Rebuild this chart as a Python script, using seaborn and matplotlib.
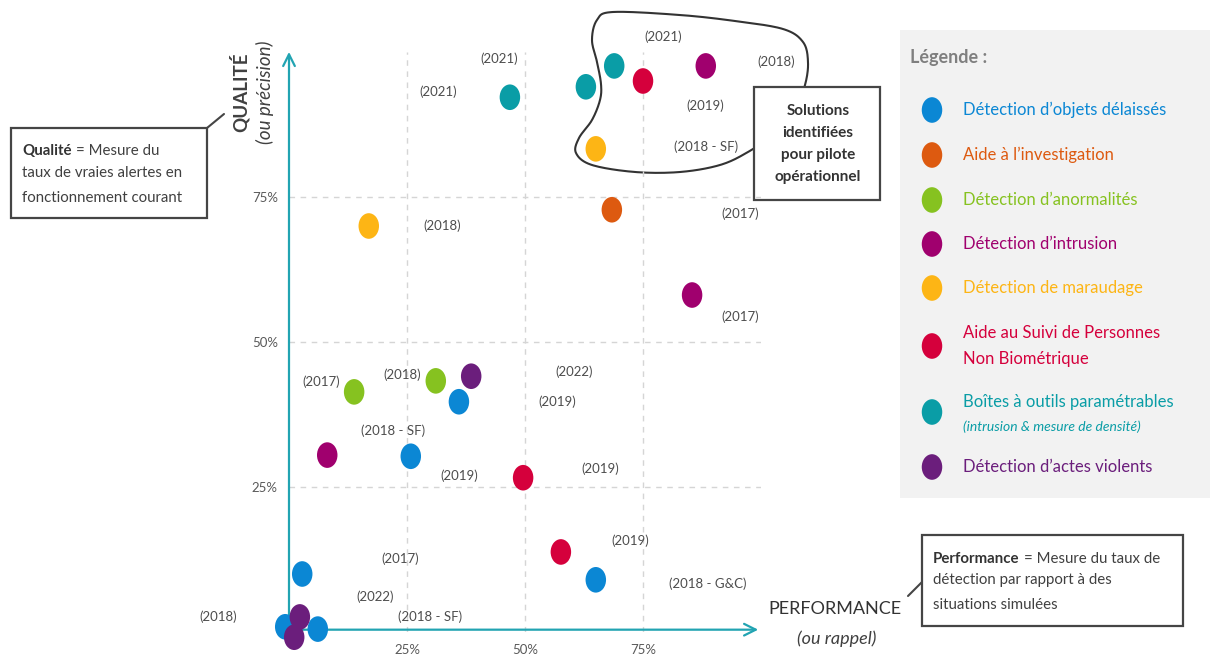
import numpy as np
import pandas as pd
import matplotlib
matplotlib.use("Agg")
import matplotlib.pyplot as plt
import matplotlib.transforms as mtransforms
from matplotlib.path import Path
from matplotlib.patches import Rectangle
import seaborn as sns

# Categories (legend order) and their colours
categories = [
    "Détection d’objets délaissés",
    "Aide à l’investigation",
    "Détection d’anormalités",
    "Détection d’intrusion",
    "Détection de maraudage",
    "Aide au Suivi de Personnes\nNon Biométrique",
    "Boîtes à outils paramétrables",
    "Détection d’actes violents",
]
colors = ["#0B87D4", "#DD5A10", "#86C220", "#A0006E",
          "#FDB515", "#D5003C", "#0A9DA6", "#6B1E7C"]

# One entry per solution: category index, performance (%), qualité (%)
point_cat = [0, 0, 0, 0, 0, 0,
             1,
             2, 2,
             3, 3, 3,
             4, 4,
             5, 5, 5,
             6, 6, 6,
             7, 7, 7]
performance = [25.8, 36.0, 2.8, 65.0, -0.8, 6.1,
               68.4,
               13.8, 31.1,
               88.3, 85.4, 8.1,
               16.9, 65.0,
               75.0, 49.6, 57.6,
               46.8, 62.9, 68.9,
               38.6, 2.3, 1.1]
qualite = [30.3, 39.7, 10.0, 9.0, 0.9, 0.5,
           72.8,
           41.4, 43.3,
           97.6, 58.1, 30.5,
           70.0, 83.3,
           95.0, 26.6, 13.8,
           92.2, 94.0, 97.6,
           44.1, 2.6, -0.9]

# Year labels (text and where they sit, in data units)
year_text = ["(2018 - SF)", "(2019)", "(2017)", "(2018 - G&C)", "(2018)", "(2018 - SF)",
             "(2017)", "(2017)", "(2018)", "(2018)", "(2017)",
             "(2018)", "(2018 - SF)", "(2019)", "(2019)", "(2019)", "(2019)",
             "(2021)", "(2021)", "(2021)", "(2022)", "(2022)"]
year_x = [22.0, 56.8, 23.5, 88.8, -15.0, 29.9,
          95.6, 6.8, 24.0, 103.2, 95.6,
          32.4, 88.3, 88.1, 65.9, 36.0, 72.2,
          31.6, 44.5, 79.2, 60.4, 18.2]
year_y = [34.7, 39.7, 12.6, 8.3, 2.6, 2.6,
          72.1, 43.1, 44.4, 98.3, 54.3,
          70.0, 83.6, 90.7, 28.1, 26.9, 15.7,
          93.1, 98.8, 102.6, 44.8, 6.0]

ticks = [25, 50, 75]
tick_labels = ["25%", "50%", "75%"]

df = pd.DataFrame({
    "performance": performance,
    "qualite": qualite,
    "categorie": [categories[i] for i in point_cat],
})
palette = dict(zip(categories, colors))

sns.set_theme(style="white")
plt.rcParams["font.family"] = ["Lato", "DejaVu Sans"]

TXT = "#404040"
TEAL = "#22A4B2"

fig = plt.figure(figsize=(12.29, 6.64), dpi=100)

# overlay in pixel coordinates for the annotations
ov = fig.add_axes([0, 0, 1, 1])
ov.set_xlim(0, 1229)
ov.set_ylim(664, 0)
ov.axis("off")

ax = fig.add_axes([289 / 1229, 32 / 664, 472 / 1229, 580 / 664])
ax.patch.set_alpha(0)

ellipse = Path.unit_circle().transformed(mtransforms.Affine2D().scale(0.8, 1.0))

sns.scatterplot(data=df, x="performance", y="qualite", hue="categorie",
                palette=palette, marker=ellipse, s=340, linewidth=0,
                legend=False, ax=ax, clip_on=False, zorder=4)

ax.set_xlim(0, 100)
ax.set_ylim(0, 100)
ax.set_xticks(ticks)
ax.set_xticklabels(tick_labels)
ax.set_yticks(ticks)
ax.set_yticklabels(tick_labels)
ax.tick_params(length=0, labelsize=9.5, labelcolor="#595959")
ax.tick_params(axis="x", pad=9)
ax.tick_params(axis="y", pad=8)
ax.grid(True, color="#D5D5D5", linestyle=(0, (4, 4)), linewidth=1)
ax.set_xlabel("")
ax.set_ylabel("")
for s in ax.spines.values():
    s.set_visible(False)

# axis arrows
arrow = dict(arrowstyle="->,head_length=0.7,head_width=0.35", color=TEAL, lw=1.6)
ax.annotate("", xy=(100, 0.4), xytext=(0, 0.4), arrowprops=arrow, annotation_clip=False)
ax.annotate("", xy=(0, 100.5), xytext=(0, 0), arrowprops=arrow, annotation_clip=False)

for t, x, y in zip(year_text, year_x, year_y):
    ax.text(x, y, t, ha="center", va="center", fontsize=9.5, color="#4D4D4D",
            clip_on=False)

# axis titles
ov.text(240, 92, "QUALITÉ", rotation=90, ha="center", va="center",
        fontsize=13.5, weight="bold", color=TXT)
ov.text(265, 92, "(ou précision)", rotation=90, ha="center", va="center",
        fontsize=13.5, style="italic", color=TXT)
ov.text(835, 609, "PERFORMANCE", ha="center", va="center", fontsize=13, color="#333333")
ov.text(837, 639, "(ou rappel)", ha="center", va="center", fontsize=13,
        style="italic", color=TXT)

# cluster outline
blob = np.array([(613, 12), (680, 15), (735, 21), (783, 29), (803, 42), (808, 62),
                 (805, 85), (795, 110), (772, 135), (748, 152), (720, 165),
                 (680, 172), (635, 172), (592, 165), (576, 153), (579, 138),
                 (592, 120), (600, 100), (601, 84), (597, 62), (592, 40), (597, 20)],
                float)


def smooth_closed(pts, n=20):
    out = []
    m = len(pts)
    t = np.linspace(0, 1, n, endpoint=False)[:, None]
    for i in range(m):
        p0, p1, p2, p3 = pts[i - 1], pts[i], pts[(i + 1) % m], pts[(i + 2) % m]
        out.append(0.5 * (2 * p1 + (-p0 + p2) * t
                          + (2 * p0 - 5 * p1 + 4 * p2 - p3) * t ** 2
                          + (-p0 + 3 * p1 - 3 * p2 + p3) * t ** 3))
    out = np.vstack(out)
    return np.vstack([out, out[:1]])


curve = smooth_closed(blob)
ov.plot(curve[:, 0], curve[:, 1], color="#333333", lw=1.5, zorder=2)

box_kw = dict(facecolor="white", edgecolor="#454545", lw=1.6, zorder=3)
ov.add_patch(Rectangle((754, 87), 126, 113, **box_kw))
ov.text(818, 144, "Solutions\nidentifiées\npour pilote\nopérationnel", ha="center",
        va="center", fontsize=11, weight="bold", color="#333333",
        linespacing=1.7, zorder=4)

# Qualité callout
ov.add_patch(Rectangle((11, 128), 196, 90, **box_kw))
ov.plot([207, 224], [128, 114], color="#454545", lw=1.5)
q = ov.text(22, 158, "Qualité", ha="left", va="bottom", fontsize=10.8,
            weight="bold", color="#333333", zorder=4)
ov.annotate("= Mesure du", xy=(1, 0), xycoords=q, xytext=(3, 0),
            textcoords="offset points", ha="left", va="bottom",
            fontsize=10.8, color=TXT, zorder=4)
ov.text(22, 173, "taux de vraies alertes en", ha="left", va="center",
        fontsize=10.8, color=TXT, zorder=4)
ov.text(22, 198, "fonctionnement courant", ha="left", va="center",
        fontsize=10.8, color=TXT, zorder=4)

# Performance callout
ov.add_patch(Rectangle((922, 535), 261, 91, **box_kw))
ov.plot([908, 922], [596, 582], color="#454545", lw=1.5)
p = ov.text(933, 566, "Performance", ha="left", va="bottom", fontsize=10.8,
            weight="bold", color="#333333", zorder=4)
ov.annotate("= Mesure du taux de", xy=(1, 0), xycoords=p, xytext=(3, 0),
            textcoords="offset points", ha="left", va="bottom",
            fontsize=10.8, color=TXT, zorder=4)
ov.text(933, 580, "détection par rapport à des", ha="left", va="center",
        fontsize=10.8, color=TXT, zorder=4)
ov.text(933, 605, "situations simulées", ha="left", va="center",
        fontsize=10.8, color=TXT, zorder=4)

# legend panel
ov.add_patch(Rectangle((900, 30), 310, 468, facecolor="#F2F2F2", edgecolor="none", zorder=1))
ov.text(910, 58, "Légende :", ha="left", va="center", fontsize=13,
        weight="bold", color="#7F7F7F", zorder=2)
leg_marker_y = [110, 155, 200, 244, 288, 346, 412, 467]
leg_text_y = [110, 155, 200, 244, 288, 346, 402, 467]
ov.scatter([932] * len(categories), leg_marker_y, c=colors, marker=ellipse,
           s=340, linewidths=0, zorder=3)
for name, col, ty in zip(categories, colors, leg_text_y):
    ov.text(963, ty, name, ha="left", va="center", fontsize=12, color=col,
            linespacing=1.75, zorder=3)
ov.text(963, 427, "(intrusion & mesure de densité)", ha="left", va="center",
        fontsize=10, style="italic", color=colors[6], zorder=3)

fig.savefig("out.png", dpi=100)
